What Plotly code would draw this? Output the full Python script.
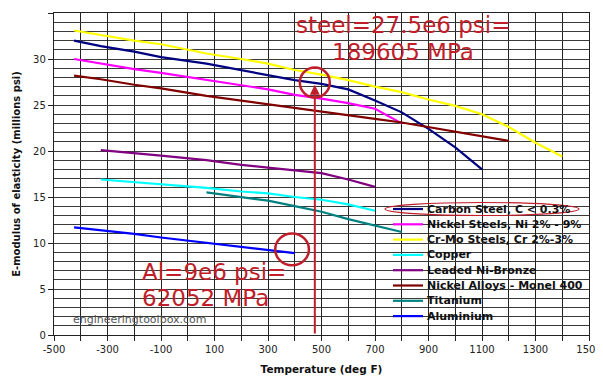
import plotly.graph_objects as go

# ---------------- data ----------------
series_names = [
    "Carbon Steel, C < 0.3%",
    "Nickel Steels, Ni 2% - 9%",
    "Cr-Mo Steels, Cr 2%-3%",
    "Copper",
    "Leaded Ni-Bronze",
    "Nickel Alloys - Monel 400",
    "Titanium",
    "Aluminium",
]
series_colors = ["#000080", "#FF00FF", "#FFFF00", "#00FFFF",
                 "#800080", "#800000", "#008080", "#0000FF"]

carbon_T = [-425, -325, -200, -100, 70, 200, 300, 400, 500, 600, 700, 800, 900, 1000, 1100]
carbon_E = [32.0, 31.4, 30.8, 30.2, 29.5, 28.8, 28.3, 27.7, 27.3, 26.7, 25.5, 24.2, 22.4, 20.4, 18.0]

nickel_T = [-425, -325, -200, -100, 70, 200, 300, 400, 500, 600, 700, 800]
nickel_E = [30.0, 29.5, 28.9, 28.5, 27.7, 27.1, 26.7, 26.1, 25.7, 25.2, 24.6, 23.0]

crmo_T = [-425, -325, -200, -100, 70, 200, 300, 400, 500, 600, 700, 800, 900, 1000, 1100, 1200, 1300, 1400]
crmo_E = [33.1, 32.6, 32.0, 31.6, 30.6, 30.0, 29.5, 28.8, 28.3, 27.7, 27.0, 26.4, 25.6, 24.9, 24.0, 22.6, 20.9, 19.4]

copper_T = [-325, -200, -100, 70, 200, 300, 400, 500, 600, 700]
copper_E = [16.9, 16.6, 16.4, 16.0, 15.6, 15.4, 15.0, 14.7, 14.2, 13.5]

bronze_T = [-325, -200, -100, 70, 200, 300, 400, 500, 600, 700]
bronze_E = [20.1, 19.8, 19.5, 19.0, 18.5, 18.2, 17.9, 17.6, 16.9, 16.1]

monel_T = [-425, -325, -200, -100, 70, 200, 300, 400, 500, 600, 700, 800, 900, 1000, 1100, 1200]
monel_E = [28.2, 27.8, 27.2, 26.8, 26.0, 25.5, 25.1, 24.7, 24.3, 23.9, 23.5, 23.1, 22.6, 22.1, 21.6, 21.1]

titanium_T = [70, 200, 300, 400, 500, 600, 700, 800]
titanium_E = [15.5, 15.0, 14.6, 14.0, 13.4, 12.6, 11.9, 11.2]

alu_T = [-425, -325, -200, -100, 70, 200, 300, 400]
alu_E = [11.7, 11.4, 11.0, 10.6, 10.0, 9.6, 9.2, 8.9]

x_ticks = [-500, -300, -100, 100, 300, 500, 700, 900, 1100, 1300, 1500]
y_ticks = [0, 5, 10, 15, 20, 25, 30, 35]

steel_note = ["steel=27.5e6 psi=", "189605 MPa"]
alu_note = ["Al=9e6 psi=", "62052 MPa"]
steel_mark = (475, 27.45)   # highlighted point (deg F, millions psi)
alu_mark = (390, 9.3)

all_T = [carbon_T, nickel_T, crmo_T, copper_T, bronze_T, monel_T, titanium_T, alu_T]
all_E = [carbon_E, nickel_E, crmo_E, copper_E, bronze_E, monel_E, titanium_E, alu_E]

# ---------------- figure ----------------
FONT = "DejaVu Sans, Arial, sans-serif"
RED = "#C01E2A"

# the page body has an 8px margin, so the figure is drawn 8px in from the corner
OFF = 8
W, H = 603 - OFF, 381 - OFF
ml, mr, mt, mb = 54 - OFF, 14, 13 - OFF, 46
pw, ph = W - ml - mr, H - mt - mb

def px_x(p):   # screen pixel -> paper x
    return (p - OFF - ml) / pw

def px_y(p):   # screen pixel -> paper y
    return (H - mb - (p - OFF)) / ph

fig = go.Figure()
for name, col, T, E in zip(series_names, series_colors, all_T, all_E):
    fig.add_trace(go.Scatter(x=T, y=E, mode="lines", name=name,
                             line=dict(color=col, width=2.2), showlegend=False))

# manual legend (compact spacing like the original)
for i, (name, col) in enumerate(zip(series_names, series_colors)):
    yc = 209 + i * 15.3
    fig.add_shape(type="line", xref="paper", yref="paper",
                  x0=px_x(393), x1=px_x(423), y0=px_y(yc), y1=px_y(yc),
                  line=dict(color=col, width=2.2))
    fig.add_annotation(xref="paper", yref="paper", x=px_x(425), y=px_y(yc),
                       xanchor="left", yanchor="middle", showarrow=False,
                       text=f"<b>{name}</b>",
                       font=dict(family=FONT, size=11, color="#111"))

# red highlight on the legend entry
fig.add_shape(type="circle", xref="paper", yref="paper",
              x0=px_x(385), x1=px_x(579), y0=px_y(215.5), y1=px_y(202.5),
              line=dict(color=RED, width=1.2))

# circles around the highlighted points
fig.add_shape(type="circle", xref="x", yref="y",
              x0=steel_mark[0] - 56, x1=steel_mark[0] + 56,
              y0=steel_mark[1] - 1.63, y1=steel_mark[1] + 1.63,
              line=dict(color=RED, width=2.5))
fig.add_shape(type="circle", xref="x", yref="y",
              x0=alu_mark[0] - 63, x1=alu_mark[0] + 63,
              y0=alu_mark[1] - 1.73, y1=alu_mark[1] + 1.73,
              line=dict(color=RED, width=2.5))

# vertical arrow
fig.add_annotation(x=steel_mark[0], y=27.2, ax=steel_mark[0], ay=0,
                   xref="x", yref="y", axref="x", ayref="y",
                   showarrow=True, text="", arrowhead=2, arrowsize=1,
                   arrowwidth=2, arrowcolor=RED)

# notes
for j, t in enumerate(steel_note):
    fig.add_annotation(xref="paper", yref="paper", x=px_x(403), y=px_y(25 + j * 27),
                       xanchor="center", yanchor="middle", showarrow=False,
                       text=t, font=dict(family=FONT, size=23, color=RED))
for j, t in enumerate(alu_note):
    fig.add_annotation(xref="paper", yref="paper", x=px_x(140), y=px_y(272 + j * 26),
                       xanchor="left", yanchor="middle", showarrow=False,
                       text=t, font=dict(family=FONT, size=23, color=RED))

# watermark
fig.add_annotation(xref="paper", yref="paper", x=px_x(71), y=px_y(319),
                   xanchor="left", yanchor="middle", showarrow=False,
                   text="engineeringtoolbox.com",
                   font=dict(family=FONT, size=11, color="#555"))

fig.update_layout(
    width=W, height=H,
    margin=dict(l=ml, r=mr, t=mt, b=mb, pad=0, autoexpand=False),
    paper_bgcolor="white", plot_bgcolor="white",
    font=dict(family=FONT, size=10, color="#111"),
    showlegend=False,
    xaxis=dict(
        range=[-500, 1500], tickvals=x_ticks,
        ticktext=[str(v) for v in x_ticks],
        tickfont=dict(family=FONT, size=10, color="#222"),
        ticks="outside", ticklen=5, tickcolor="#222",
        showgrid=True, gridcolor="#222", gridwidth=1.4,
        minor=dict(dtick=100, tick0=-500, showgrid=True, gridcolor="#222",
                   gridwidth=1.4, ticks="outside", ticklen=5, tickcolor="#222"),
        showline=True, linecolor="#222", linewidth=1.4, mirror=True,
        zeroline=False, automargin=False,
        title=dict(text="<b>Temperature (deg F)</b>",
                   font=dict(family=FONT, size=10.5, color="#111"), standoff=11),
    ),
    yaxis=dict(
        range=[0, 35], tickvals=y_ticks,
        tickfont=dict(family=FONT, size=10, color="#222"),
        ticks="outside", ticklen=5, tickcolor="#222",
        showgrid=True, gridcolor="#3a3a3a", gridwidth=1.2,
        minor=dict(dtick=1, showgrid=True, gridcolor="#3a3a3a", gridwidth=1.2),
        showline=True, linecolor="#222", linewidth=1.4, mirror=True,
        zeroline=False, automargin=False,
        title=dict(text="<b>E-modulus of elasticity (millions psi)</b>",
                   font=dict(family=FONT, size=10, color="#111"), standoff=10),
    ),
)

fig.write_html("out.html")
